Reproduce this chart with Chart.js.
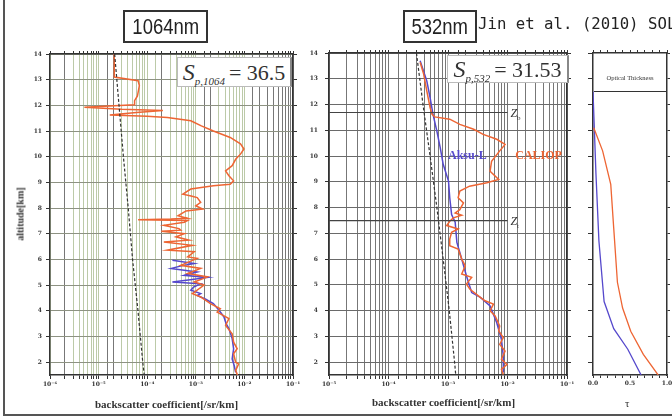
<!DOCTYPE html>
<html>
<head>
<meta charset="utf-8">
<script src="https://cdn.jsdelivr.net/npm/chart.js@4.4.1/dist/chart.umd.min.js"></script>
<style>
body { margin: 0; background: #fff; }
#fig { position: relative; width: 672px; height: 418px; overflow: hidden; background: #fff; }
#frame { position: absolute; left: 3px; top: -2px; width: 700px; height: 416px; border-left: 2px solid #555; border-bottom: 2px solid #555; }
canvas { position: absolute; top: 0; }
.title { position: absolute; border: 2px solid #333; font-family: 'Liberation Sans', sans-serif; font-size: 22px; text-align: center; line-height: 30px; color: #222; }
.title span { display: inline-block; transform: scaleX(0.84); }
.ref { position: absolute; left: 478px; top: 14px; font-family: 'DejaVu Sans Mono', monospace; font-size: 15.7px; color: #222; white-space: nowrap; }
.sp { position: absolute; background: #fff; border: 1px solid #bbb; border-right: 2px solid #888; font-family: 'Liberation Serif', serif; font-size: 22px; color: #333; text-align: center; white-space: nowrap; }
.sp i { font-size: 24px; }
.sp sub { font-style: italic; font-size: 11px; vertical-align: -5px; margin-right: 4px; }
.xt { position: absolute; font-family: 'Liberation Serif', serif; font-weight: bold; font-size: 11px; color: #333; white-space: nowrap; }
.yt { position: absolute; left: 20px; top: 214px; font-family: 'Liberation Serif', serif; font-weight: bold; font-size: 10px; color: #333; white-space: nowrap; transform: translate(-50%, -50%) rotate(-90deg); }
.tauhead { position: absolute; left: 594px; top: 54px; width: 72px; height: 37px; background: #fff; border-bottom: 1px solid #333; font-family: 'Liberation Serif', serif; font-size: 6.5px; color: #333; text-align: center; line-height: 48px; }
</style>
</head>
<body>
<div id="fig">
  <div id="frame"></div>
  <canvas id="c1064" width="300" height="418" style="left:0px"></canvas>
  <canvas id="c532" width="280" height="418" style="left:300px"></canvas>
  <canvas id="ctau" width="92" height="418" style="left:580px"></canvas>

  <div class="title" style="left:123px;top:10px;width:81px;height:29px;"><span>1064nm</span></div>
  <div class="title" style="left:403px;top:10px;width:70px;height:29px;"><span>532nm</span></div>
  <div class="ref">Jin et al. (2010) SOLA</div>

  <div class="sp" style="left:177px;top:57px;width:112px;height:28px;line-height:28px;"><i>S</i><sub>p,1064</sub>= 36.5</div>
  <div class="sp" style="left:447px;top:55px;width:119px;height:26px;line-height:26px;"><i>S</i><sub>p,532</sub>= 31.53</div>
  <div class="tauhead">Optical Thickness</div>

  <div class="yt">altitude[km]</div>
  <div class="xt" style="left:95px;top:398px;">backscatter coefficient[/sr/km]</div>
  <div class="xt" style="left:372px;top:396px;">backscatter coefficient[/sr/km]</div>
  <div class="xt" style="left:625px;top:397px;font-weight:normal;">τ</div>
</div>
<script>
// ---- data ----
const altTicks = [2, 3, 4, 5, 6, 7, 8, 9, 10, 11, 12, 13, 14];

// 1064 nm, CALIOP
const altCal1064 = [14.0, 13.1, 12.96, 12.77, 12.37, 12.18, 12.02, 11.93, 11.85, 11.8, 11.72, 11.62, 11.58, 11.53, 11.4, 11.2, 11.0, 10.75, 10.5, 10.3,
    10.1, 9.9, 9.65, 9.45, 9.26, 9.06, 8.93, 8.87, 8.74, 8.54, 8.47, 8.41, 8.22, 8.09, 7.96, 7.89, 7.7, 7.6, 7.57, 7.55,
    7.52, 7.45, 7.33, 7.2, 7.14, 7.1, 7.0, 6.88, 6.75, 6.68, 6.55, 6.36, 6.3, 6.1, 6.04, 5.77, 5.65, 5.45, 5.32, 5.12,
    5.0, 4.67, 4.54, 4.28, 4.08, 3.95, 3.7, 3.43, 3.1, 2.78, 2.52, 2.33, 2.0, 1.93, 1.68, 1.5];
const bscCal1064 = [2.1e-5, 2.1e-5, 6.5e-5, 6.9e-5, 6.3e-5, 5.5e-5, 5.5e-5, 5.1e-6, 3.0e-5, 2.1e-4, 6.0e-5, 1.7e-5, 1.0e-4, 2.6e-4, 7.9e-4, 1.3e-3, 2.3e-3, 5.1e-3, 8.3e-3, 9.8e-3,
    8.3e-3, 6.6e-3, 5.6e-3, 4.1e-3, 4.8e-3, 6.0e-3, 5.1e-3, 2.3e-3, 7.9e-4, 5.4e-4, 8.0e-4, 1.07e-3, 1.26e-3, 1.0e-3, 1.38e-3, 6.3e-4, 4.3e-4, 6.8e-4, 3.1e-4, 6.5e-5,
    6.8e-4, 5.8e-4, 2.2e-4, 4.5e-4, 4.9e-4, 1.95e-4, 5.8e-4, 3.9e-4, 7.2e-4, 2.2e-4, 8.5e-4, 2.6e-4, 9.3e-4, 6.8e-4, 1.07e-3, 4.9e-4, 1.26e-3, 6.8e-4, 1.74e-3, 9.3e-4,
    1.48e-3, 8.5e-4, 1.26e-3, 2.0e-3, 3.2e-3, 2.75e-3, 4.8e-3, 4.1e-3, 5.6e-3, 6.0e-3, 7.1e-3, 6.0e-3, 6.6e-3, 7.6e-3, 6.6e-3, 7.2e-3];

// 1064 nm, ground lidar
const altGnd1064 = [5.97, 5.84, 5.75, 5.65, 5.51, 5.38, 5.3, 5.2, 5.12, 5.05, 4.92, 4.8, 4.67, 4.6, 4.45, 4.28, 4.02, 3.76, 3.5, 3.31, 2.92, 2.52, 2.13, 1.85, 1.6];
const bscGnd1064 = [3.3e-4, 9.3e-4, 5.0e-4, 3.1e-4, 1.07e-3, 5.8e-4, 1.74e-3, 7.0e-4, 3.3e-4, 1.26e-3, 9.0e-4, 7.9e-4, 1.26e-3, 1.07e-3, 1.6e-3, 2.3e-3, 3.0e-3, 3.8e-3, 4.2e-3, 4.8e-3, 5.6e-3, 6.0e-3, 5.6e-3, 6.2e-3, 6.6e-3];

// molecular profiles
const altMol = [14, 12, 10, 8, 6, 4, 2, 1.5];
const bscMol1064 = [2.14e-5, 2.63e-5, 3.24e-5, 4.07e-5, 5.0e-5, 6.46e-5, 8.1e-5, 8.7e-5];
const bscMol532 = [2.95e-4, 3.8e-4, 5.0e-4, 6.5e-4, 8.3e-4, 1.05e-3, 1.29e-3, 1.35e-3];

// 532 nm, CALIOP
const altCal532 = [13.64, 13.18, 12.53, 11.88, 11.62, 11.52, 11.43, 11.23, 11.04, 10.84, 10.65, 10.45, 10.2, 9.8, 9.41, 9.09, 8.96, 8.83, 8.64, 8.38,
    8.18, 7.92, 7.79, 7.7, 7.6, 7.47, 7.3, 7.17, 7.04, 6.78, 6.52, 6.39, 6.0, 5.74, 5.42, 5.29, 5.03, 4.83, 4.51, 4.38,
    4.25, 3.99, 3.79, 3.4, 3.21, 2.95, 2.69, 2.43, 2.11, 1.91, 1.72, 1.52];
const bscCal532 = [3.4e-4, 3.9e-4, 4.4e-4, 5.0e-4, 5.4e-4, 6.0e-4, 1.07e-3, 1.58e-3, 2.7e-3, 3.9e-3, 6.6e-3, 9.1e-3, 7.4e-3, 5.4e-3, 5.1e-3, 7.1e-3, 4.5e-3, 2.3e-3, 1.58e-3, 1.48e-3,
    1.82e-3, 1.58e-3, 1.32e-3, 1.7e-3, 1.23e-3, 1.07e-3, 9.5e-4, 1.48e-3, 1.15e-3, 1.07e-3, 1.07e-3, 1.48e-3, 1.7e-3, 1.95e-3, 1.7e-3, 2.5e-3, 2.04e-3, 2.34e-3, 3.5e-3, 4.2e-3,
    5.8e-3, 5.1e-3, 6.2e-3, 7.4e-3, 7.1e-3, 8.5e-3, 7.4e-3, 9.1e-3, 7.9e-3, 9.8e-3, 7.9e-3, 8.5e-3];

// 532 nm, Aksu lidar
const altGnd532 = [13.7, 12.92, 12.27, 11.62, 10.97, 10.33, 9.68, 9.03, 8.38, 7.73, 7.43, 6.65, 6.0, 5.35, 4.7, 4.51, 4.18, 3.53, 2.89, 2.24, 1.6];
const bscGnd532 = [3.4e-4, 4.4e-4, 5.0e-4, 5.6e-4, 6.5e-4, 7.4e-4, 8.3e-4, 1.02e-3, 1.07e-3, 1.15e-3, 1.32e-3, 1.41e-3, 1.7e-3, 2.04e-3, 2.5e-3, 3.5e-3, 5.1e-3, 6.6e-3, 7.9e-3, 8.5e-3, 8.5e-3];

// cloud top / base heights
const zAlts = [11.69, 7.49];
const zSubs = ['b', 't'];
const zLineEnd = 1.0e-2;

// optical thickness
const altTauCal = [11.1, 10.2, 8.9, 7.2, 5.1, 4.1, 3.2, 2.3, 1.5];
const tauCal = [0.01, 0.13, 0.24, 0.28, 0.33, 0.40, 0.51, 0.68, 0.88];
const altTauGnd = [12.5, 9.3, 6.7, 4.35, 3.3, 2.5, 1.5];
const tauGnd = [0.0, 0.04, 0.08, 0.15, 0.28, 0.47, 0.65];

const ORANGE = '#ee6533';
const BLUE = '#5548cc';
const AXIS = '#333';
const TICK_FONT = { family: 'DejaVu Serif', size: 6, weight: 'bold' };

// ---- helpers ----
const sup = { '-': '⁻', '0': '⁰', '1': '¹', '2': '²', '3': '³', '4': '⁴', '5': '⁵', '6': '⁶', '7': '⁷', '8': '⁸', '9': '⁹' };

function decadeLabel(v) {
    const e = Math.log10(v);
    if (Math.abs(e - Math.round(e)) > 1e-6) return '';
    return '10' + String(Math.round(e)).split('').map(c => sup[c]).join('');
}

function mantissa(v) {
    return Math.round(v / Math.pow(10, Math.floor(Math.log10(v) + 1e-9)));
}

function points(alts, vals) {
    return alts.map((a, i) => ({ x: vals[i], y: a }));
}

function line(data, color, width, dash) {
    return { data, borderColor: color, borderWidth: width, borderDash: dash || [], showLine: true, pointRadius: 0, tension: 0, fill: false };
}

function fixedWidth(w) {
    return s => { s.width = w; s.paddingTop = 0; s.paddingBottom = 0; };
}

function fixedHeight(h) {
    return s => { s.height = h; s.paddingLeft = 0; s.paddingRight = 0; };
}

const setAltTicks = s => { s.ticks = altTicks.map(v => ({ value: v })); };

// text drawn at data coordinates
const inlineText = {
    id: 'inlineText',
    afterDatasetsDraw(chart, args, opts) {
        const { ctx } = chart;
        const xs = chart.scales.x, ys = chart.scales.y;
        (opts.items || []).forEach(it => {
            const px = xs.getPixelForValue(it.x);
            const py = ys.getPixelForValue(it.y);
            ctx.save();
            ctx.fillStyle = it.color;
            ctx.textBaseline = 'middle';
            ctx.font = it.font;
            ctx.fillText(it.text, px, py);
            if (it.sub) {
                const w = ctx.measureText(it.text).width;
                ctx.font = it.subFont;
                ctx.fillText(it.sub, px + w, py + 4);
            }
            ctx.restore();
        });
    }
};

function profileScales(cfg) {
    return {
        x: {
            type: 'logarithmic', position: 'bottom', min: cfg.xmin, max: cfg.xmax,
            ticks: { autoSkip: false, maxRotation: 0, padding: 2, color: AXIS, font: TICK_FONT, callback: decadeLabel },
            grid: { color: cfg.vGrid, lineWidth: 1, tickLength: 4, tickColor: AXIS },
            border: { color: AXIS, width: 1.5 },
            afterFit: fixedHeight(43)
        },
        xTop: {
            type: 'logarithmic', axis: 'x', position: 'top', min: cfg.xmin, max: cfg.xmax,
            ticks: { display: false, autoSkip: false },
            grid: { drawOnChartArea: false, tickLength: 3, tickColor: AXIS },
            border: { color: AXIS, width: 1.5 },
            afterFit: fixedHeight(cfg.top)
        },
        y: {
            type: 'linear', position: 'left', min: 1.5, max: 14,
            afterBuildTicks: setAltTicks,
            ticks: { padding: cfg.yPad, color: AXIS, font: TICK_FONT },
            grid: { color: cfg.hGrid, lineWidth: 1, tickLength: 4, tickColor: AXIS },
            border: { color: AXIS, width: 1.5 },
            afterFit: fixedWidth(cfg.left)
        },
        yRight: {
            type: 'linear', axis: 'y', position: 'right', min: 1.5, max: 14,
            afterBuildTicks: setAltTicks,
            ticks: { display: false },
            grid: { drawOnChartArea: false, tickLength: 4, tickColor: AXIS },
            border: { color: AXIS, width: 1.5 },
            afterFit: fixedWidth(cfg.right)
        }
    };
}

const baseOptions = {
    responsive: false,
    animation: false,
    layout: { padding: 0 },
    plugins: { legend: { display: false }, tooltip: { enabled: false } }
};

// ---- 1064 nm panel ----
new Chart(document.getElementById('c1064').getContext('2d'), {
    type: 'scatter',
    data: {
        datasets: [
            line(points(altMol, bscMol1064), '#333', 1.2, [3, 2]),
            line(points(altCal1064, bscCal1064), ORANGE, 1.5),
            line(points(altGnd1064, bscGnd1064), BLUE, 1.5)
        ]
    },
    options: {
        ...baseOptions,
        scales: profileScales({
            xmin: 1e-6, xmax: 1e-1, top: 54, left: 50, right: 7, yPad: 4,
            vGrid: c => (c.tick.value > 1.9e-2 || mantissa(c.tick.value) === 2) ? '#777' : '#bccaa8',
            hGrid: '#8d9282'
        })
    }
});

// ---- 532 nm panel ----
const zLines = zAlts.map(a => line([{ x: 1e-5, y: a }, { x: zLineEnd, y: a }], '#444', 1.2));

new Chart(document.getElementById('c532').getContext('2d'), {
    type: 'scatter',
    data: {
        datasets: [
            ...zLines,
            line(points(altMol, bscMol532), '#333', 1.2, [3, 2]),
            line(points(altCal532, bscCal532), ORANGE, 1.5),
            line(points(altGnd532, bscGnd532), BLUE, 1.5)
        ]
    },
    options: {
        ...baseOptions,
        scales: profileScales({
            xmin: 1e-5, xmax: 1e-1, top: 53, left: 29, right: 13, yPad: 7,
            vGrid: '#777', hGrid: '#6a6a6a'
        }),
        plugins: {
            ...baseOptions.plugins,
            inlineText: {
                items: [
                    { text: 'Aksu-L', x: 1.0e-3, y: 10, color: BLUE, font: 'bold 12px "Liberation Serif"' },
                    { text: 'CALIOP', x: 1.35e-2, y: 10, color: ORANGE, font: 'bold 12px "Liberation Serif"' },
                    ...zAlts.map((a, i) => ({ text: 'Z', sub: zSubs[i], x: 1.12e-2, y: a - 0.05, color: '#333',
                        font: 'italic 12px "Liberation Serif"', subFont: '7px "Liberation Serif"' }))
                ]
            }
        }
    },
    plugins: [inlineText]
});

// ---- optical thickness panel ----
new Chart(document.getElementById('ctau').getContext('2d'), {
    type: 'scatter',
    data: {
        datasets: [
            line(points(altTauCal, tauCal), ORANGE, 1.3),
            line(points(altTauGnd, tauGnd), BLUE, 1.3)
        ]
    },
    options: {
        ...baseOptions,
        scales: {
            x: {
                type: 'linear', position: 'bottom', min: 0, max: 1,
                ticks: { stepSize: 0.1, autoSkip: false, maxRotation: 0, padding: 2, color: AXIS, font: TICK_FONT,
                    callback: v => Math.abs(v * 2 - Math.round(v * 2)) < 1e-6 ? v.toFixed(1) : '' },
                grid: { drawOnChartArea: false, tickLength: 3, tickColor: AXIS },
                border: { color: AXIS, width: 1.5 },
                afterFit: fixedHeight(43)
            },
            xTop: {
                type: 'linear', axis: 'x', position: 'top', min: 0, max: 1,
                ticks: { display: false, stepSize: 0.1 },
                grid: { drawOnChartArea: false, tickLength: 3, tickColor: AXIS },
                border: { color: AXIS, width: 1.5 },
                afterFit: fixedHeight(53)
            },
            y: {
                type: 'linear', position: 'left', min: 1.5, max: 14,
                afterBuildTicks: setAltTicks,
                ticks: { display: false },
                grid: { drawOnChartArea: false, tickLength: 5, tickColor: AXIS },
                border: { color: AXIS, width: 1.5 },
                afterFit: fixedWidth(13)
            },
            yRight: {
                type: 'linear', axis: 'y', position: 'right', min: 1.5, max: 14,
                afterBuildTicks: setAltTicks,
                ticks: { display: false },
                grid: { drawOnChartArea: false, tickLength: 3, tickColor: AXIS },
                border: { color: AXIS, width: 1.5 },
                afterFit: fixedWidth(5)
            }
        }
    }
});
</script>
</body>
</html>
